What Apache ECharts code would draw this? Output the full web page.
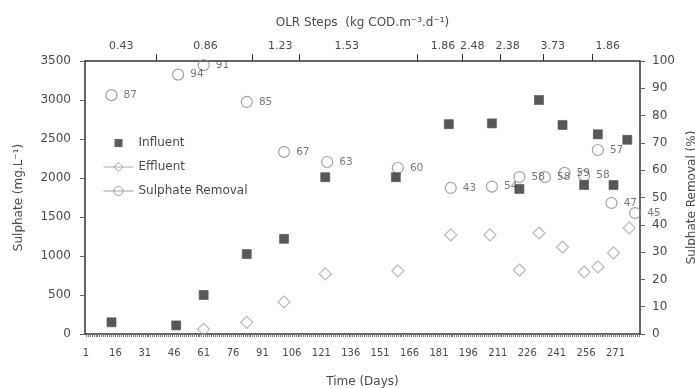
<!DOCTYPE html>
<html>
<head>
<meta charset="utf-8">
<script src="https://cdn.jsdelivr.net/npm/echarts@6/dist/echarts.min.js"></script>
<style>html,body{margin:0;padding:0;background:#fff}#c{width:695px;height:388px}</style>
</head>
<body>
<div id="c"></div>
<script>
// ---- data ----
const dayCount = 283;
const influentDays   = [14, 47, 61, 83, 102, 123, 159, 186, 208, 222, 232, 244, 255, 262, 270, 277];
const influentValues = [150, 110, 500, 1025, 1220, 2010, 2010, 2690, 2700, 1860, 3000, 2680, 1910, 2560, 1910, 2490];
const effluentDays   = [61, 83, 102, 123, 160, 187, 207, 222, 232, 244, 255, 262, 270, 278];
const effluentValues = [60, 150, 410, 770, 810, 1270, 1270, 820, 1295, 1115, 795, 860, 1040, 1360];
const removalDays    = [14, 48, 61, 83, 102, 124, 160, 187, 208, 222, 235, 245, 255, 262, 269, 281];
const removalValues  = [87.5, 95, 98.5, 85, 66.7, 63, 60.8, 53.5, 54, 57.5, 57.5, 59, 58, 67.4, 48, 44.3];
const removalLabels  = ['87','94','91','85','67','63','60','43','54','58','58','59','58','57','47','45'];
const olrLabels      = ['0.43','0.86','1.23','1.53','1.86','2.48','2.38','3.73','1.86'];
const olrLabelDays   = [19, 62, 100, 134, 183, 198, 216, 239, 267];
const olrStepDays    = [37, 86, 110, 170, 193, 212, 234, 259];

// ---- build ----
const days = [];
for (let i = 1; i <= dayCount; i++) days.push(String(i));
const pairs = (xs, ys) => xs.map((d, i) => [String(d), ys[i]]);

const font = 'DejaVu Sans';
const txt = '#4a4a4a';
const axisCol = '#333';

const chart = echarts.init(document.getElementById('c'), null, {renderer: 'canvas'});
chart.setOption({
  animation: false,
  backgroundColor: '#fff',
  textStyle: {fontFamily: font},
  grid: {left: 85, right: 55, top: 61, bottom: 54, containLabel: false, outerBoundsMode: 'none'},
  legend: {
    orient: 'vertical', left: 103, top: 137, padding: 0,
    itemWidth: 30, itemHeight: 10, itemGap: 12,
    textStyle: {color: txt, fontSize: 12, fontFamily: font},
    data: [
      {name: 'Influent', icon: 'path://M0,0M30,10M11,1h8v8h-8z', itemStyle: {color: '#333', borderWidth: 0}},
      {name: 'Effluent', icon: 'path://M0,5L30,5M15,0.5L19.5,5L15,9.5L10.5,5Z', itemStyle: {color: 'transparent', borderColor: '#999', borderWidth: 1}},
      {name: 'Sulphate Removal', icon: 'path://M0,5L30,5M19.5,5A4.5,4.5,0,1,1,10.5,5A4.5,4.5,0,1,1,19.5,5Z', itemStyle: {color: 'transparent', borderColor: '#888', borderWidth: 1}}
    ]
  },
  xAxis: [
    {
      type: 'category', data: days, position: 'bottom', boundaryGap: true,
      name: 'Time (Days)', nameLocation: 'middle', nameGap: 42,
      nameTextStyle: {color: txt, fontSize: 12, fontFamily: font},
      axisLine: {onZero: false, lineStyle: {color: axisCol, width: 1.5}},
      axisTick: {show: true, interval: 0, length: 3, alignWithLabel: true, lineStyle: {color: '#777', width: 1}},
      axisLabel: {interval: 14, margin: 14, color: txt, fontSize: 10, fontFamily: font},
      splitLine: {show: false}
    },
    {
      type: 'value', min: 0.5, max: dayCount + 0.5, position: 'top',
      name: 'OLR Steps  (kg COD.m\u207B\u00B3.d\u207B\u00B9)', nameLocation: 'middle', nameGap: 32,
      nameTextStyle: {color: txt, fontSize: 12, fontFamily: font},
      axisLine: {show: true, onZero: false, lineStyle: {color: axisCol, width: 1.5}},
      axisTick: {show: true, length: 7, customValues: olrStepDays, lineStyle: {color: axisCol, width: 1}},
      axisLabel: {show: true, margin: 9, color: txt, fontSize: 11, fontFamily: font,
        customValues: olrLabelDays,
        formatter: v => { const k = olrLabelDays.indexOf(Math.round(v)); return k >= 0 ? olrLabels[k] : ''; }},
      splitLine: {show: false}
    }
  ],
  yAxis: [
    {
      type: 'value', min: 0, max: 3500, interval: 500, position: 'left',
      name: 'Sulphate (mg.L\u207B\u00B9)', nameLocation: 'middle', nameGap: 60, nameRotate: 90,
      nameTextStyle: {color: txt, fontSize: 12, fontFamily: font},
      axisLine: {show: true, onZero: false, lineStyle: {color: axisCol, width: 1.5}},
      axisTick: {show: true, length: 5, lineStyle: {color: '#666'}},
      axisLabel: {margin: 14, color: txt, fontSize: 12, fontFamily: font, formatter: v => String(v)},
      splitLine: {show: false}
    },
    {
      type: 'value', min: 0, max: 100, interval: 10, position: 'right',
      name: 'Sulphate Removal (%)', nameLocation: 'middle', nameGap: 38, nameRotate: 90,
      nameTextStyle: {color: txt, fontSize: 12, fontFamily: font},
      axisLine: {show: true, onZero: false, lineStyle: {color: axisCol, width: 1.5}},
      axisTick: {show: true, length: 5, lineStyle: {color: '#666'}},
      axisLabel: {margin: 12, color: txt, fontSize: 12, fontFamily: font},
      splitLine: {show: false}
    }
  ],
  series: [
    {
      name: 'Sulphate Removal', type: 'scatter', xAxisIndex: 0, yAxisIndex: 1,
      symbol: 'circle', symbolSize: 11,
      itemStyle: {color: 'transparent', borderColor: '#8c8c8c', borderWidth: 1.2},
      label: {show: true, position: 'right', distance: 6, color: '#555', fontSize: 10.5, fontFamily: font,
        formatter: p => removalLabels[p.dataIndex]},
      data: pairs(removalDays, removalValues), z: 2
    },
    {
      name: 'Effluent', type: 'scatter', xAxisIndex: 0, yAxisIndex: 0,
      symbol: 'diamond', symbolSize: 12,
      itemStyle: {color: 'transparent', borderColor: '#a8a8a8', borderWidth: 1.2},
      data: pairs(effluentDays, effluentValues), z: 3
    },
    {
      name: 'Influent', type: 'scatter', xAxisIndex: 0, yAxisIndex: 0,
      symbol: 'rect', symbolSize: 9,
      itemStyle: {color: '#2e2e2e', borderColor: '#555', borderWidth: 0.8},
      data: pairs(influentDays, influentValues), z: 5
    }
  ]
});
</script>
</body>
</html>
